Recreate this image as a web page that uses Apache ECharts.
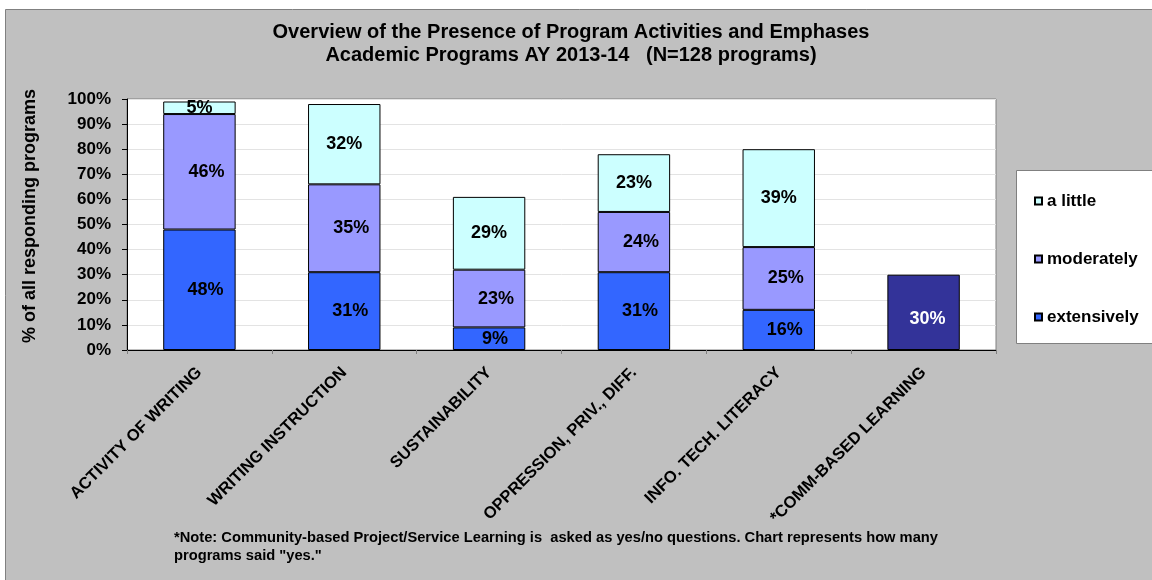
<!DOCTYPE html>
<html>
<head>
<meta charset="utf-8">
<script src="https://cdn.jsdelivr.net/npm/echarts@6/dist/echarts.min.js"></script>
<style>
html,body{margin:0;padding:0;background:#ffffff;}
#chart{width:1152px;height:580px;}
</style>
</head>
<body>
<div id="chart"></div>
<script>
const categories = ['ACTIVITY OF WRITING', 'WRITING INSTRUCTION', 'SUSTAINABILITY', 'OPPRESSION, PRIV., DIFF.', 'INFO. TECH. LITERACY', '*COMM-BASED LEARNING'];
const extensively = [48, 31, 9, 31, 16, 30];
const moderately = [46, 35, 23, 24, 25, null];
const aLittle = [5, 32, 29, 23, 39, null];
const yesNoIndex = 5;
const titleLines = ['Overview of the Presence of Program Activities and Emphases', 'Academic Programs AY 2013-14   (N=128 programs)'];
const yAxisName = '% of all responding programs';
const noteLines = ['*Note: Community-based Project/Service Learning is  asked as yes/no questions. Chart represents how many', 'programs said "yes."'];

const FONT = "'Liberation Sans', Arial, sans-serif";
const chart = echarts.init(document.getElementById('chart'));

const labelBase = {show: true, position: 'inside', formatter: '{c}%', color: '#000', fontFamily: FONT, fontWeight: 'bold', fontSize: 18};
const itemBase = {borderColor: '#000', borderWidth: 1};

const extData = extensively.map((v, i) => i === yesNoIndex
  ? {value: v, itemStyle: {color: '#333399'}, label: {color: '#fff', offset: [4, 7]}}
  : v);

chart.setOption({
  animation: false,
  backgroundColor: '#ffffff',
  textStyle: {fontFamily: FONT},
  title: {
    text: titleLines.join('\n'),
    left: 571, top: 21, textAlign: 'center', padding: 0,
    textStyle: {fontFamily: FONT, fontWeight: 'bold', fontSize: 20, lineHeight: 23, color: '#000'}
  },
  legend: {
    orient: 'vertical', left: 1034, top: 192, padding: 0,
    data: ['a little', 'moderately', 'extensively'],
    itemWidth: 7, itemHeight: 7, itemGap: 40,
    icon: 'rect',
    textStyle: {fontFamily: FONT, fontWeight: 'bold', fontSize: 17, lineHeight: 18, color: '#000'}
  },
  grid: {left: 127, top: 99, right: 156, bottom: 230, show: true, backgroundColor: '#fff', borderColor: '#808080', borderWidth: 1},
  xAxis: {
    type: 'category', data: categories,
    axisLine: {show: true, lineStyle: {color: '#000', width: 1}},
    axisTick: {show: true, length: 4, lineStyle: {color: '#808080'}},
    axisLabel: {rotate: 45, margin: 20, interval: 0, color: '#000', fontFamily: FONT, fontWeight: 'bold', fontSize: 16.5}
  },
  yAxis: {
    type: 'value', min: 0, max: 100, interval: 10,
    axisLine: {show: true, lineStyle: {color: '#000', width: 1}},
    axisTick: {show: true, length: 5, lineStyle: {color: '#000'}},
    axisLabel: {formatter: '{value}%', margin: 16, color: '#000', fontFamily: FONT, fontWeight: 'bold', fontSize: 17},
    splitLine: {show: true, lineStyle: {color: '#e3e3e3', width: 1}}
  },
  graphic: [
    {type: 'rect', z: -10, silent: true, shape: {x: 5.5, y: 9.5, width: 1160, height: 590}, style: {fill: '#c0c0c0', stroke: '#808080', lineWidth: 1}},
    {type: 'rect', z: -5, silent: true, shape: {x: 1016.5, y: 170.5, width: 140, height: 173}, style: {fill: '#fff', stroke: '#808080', lineWidth: 1}},
    {type: 'text', silent: true, x: 30, y: 216, rotation: Math.PI / 2, style: {text: yAxisName, fill: '#000', font: "bold 18px 'Liberation Sans', Arial, sans-serif", textAlign: 'center', textVerticalAlign: 'middle'}},
    {type: 'text', silent: true, x: 174, y: 529, style: {text: noteLines.join('\n'), fill: '#000', font: "bold 14.7px 'Liberation Sans', Arial, sans-serif", lineHeight: 18}}
  ],
  series: [
    {name: 'extensively', type: 'bar', stack: 'a', barWidth: '50%', data: extData, itemStyle: Object.assign({color: '#3366ff'}, itemBase), label: Object.assign({}, labelBase, {offset: [6, 0]})},
    {name: 'moderately', type: 'bar', stack: 'a', barWidth: '50%', data: moderately, itemStyle: Object.assign({color: '#9999ff'}, itemBase), label: Object.assign({}, labelBase, {offset: [7, 0]})},
    {name: 'a little', type: 'bar', stack: 'a', barWidth: '50%', data: aLittle, itemStyle: Object.assign({color: '#ccffff'}, itemBase), label: labelBase}
  ]
});
</script>
</body>
</html>
